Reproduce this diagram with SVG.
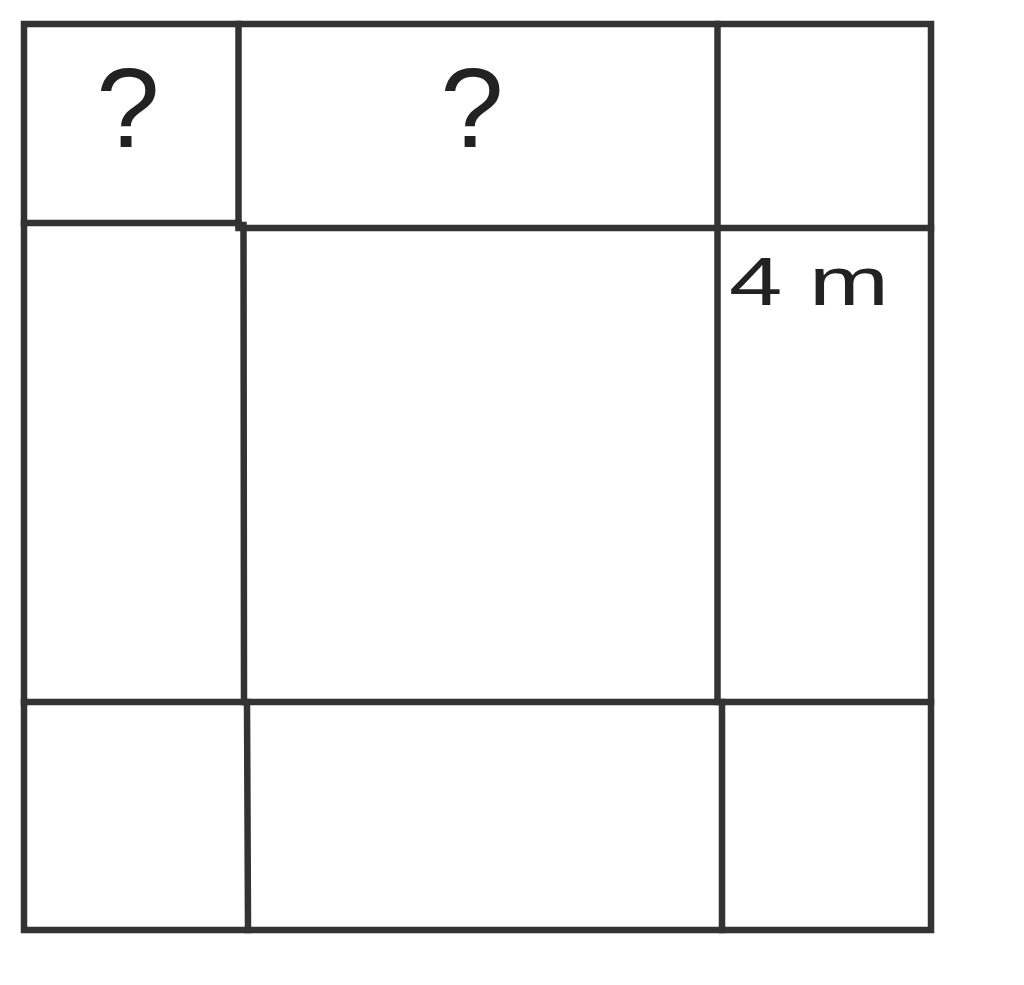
<svg xmlns="http://www.w3.org/2000/svg" width="1024" height="985" viewBox="0 0 1024 985">
<style>
.ln{stroke:#333;stroke-width:6.5;fill:none;stroke-linecap:square}
.q{font-family:"Liberation Sans",Arial,sans-serif;font-size:114px;fill:#222;text-anchor:middle}
.lbl{font-family:"Liberation Sans",Arial,sans-serif;font-size:68px;fill:#222}
</style>
<rect width="1024" height="985" fill="#fff"/>
<g id="grid">
<rect class="ln" x="24" y="24" width="907" height="906"/>
<line class="ln" x1="24" y1="223" x2="238.5" y2="223"/>
<line class="ln" x1="238.5" y1="228" x2="931" y2="228"/>
<line class="ln" x1="24" y1="702" x2="931" y2="702"/>
<line class="ln" x1="238.5" y1="24" x2="238.5" y2="225"/>
<line class="ln" x1="243.5" y1="225" x2="244" y2="702"/>
<line class="ln" x1="247" y1="702" x2="248" y2="930"/>
<line class="ln" x1="717.5" y1="24" x2="717.5" y2="702"/>
<line class="ln" x1="722" y1="702" x2="722" y2="930"/>
</g>
<g id="labels">
<text class="q" x="128" y="147">?</text>
<text class="q" x="472" y="147">?</text>
<text class="lbl" x="729" y="305" textLength="160" lengthAdjust="spacingAndGlyphs">4 m</text>
</g>
</svg>
